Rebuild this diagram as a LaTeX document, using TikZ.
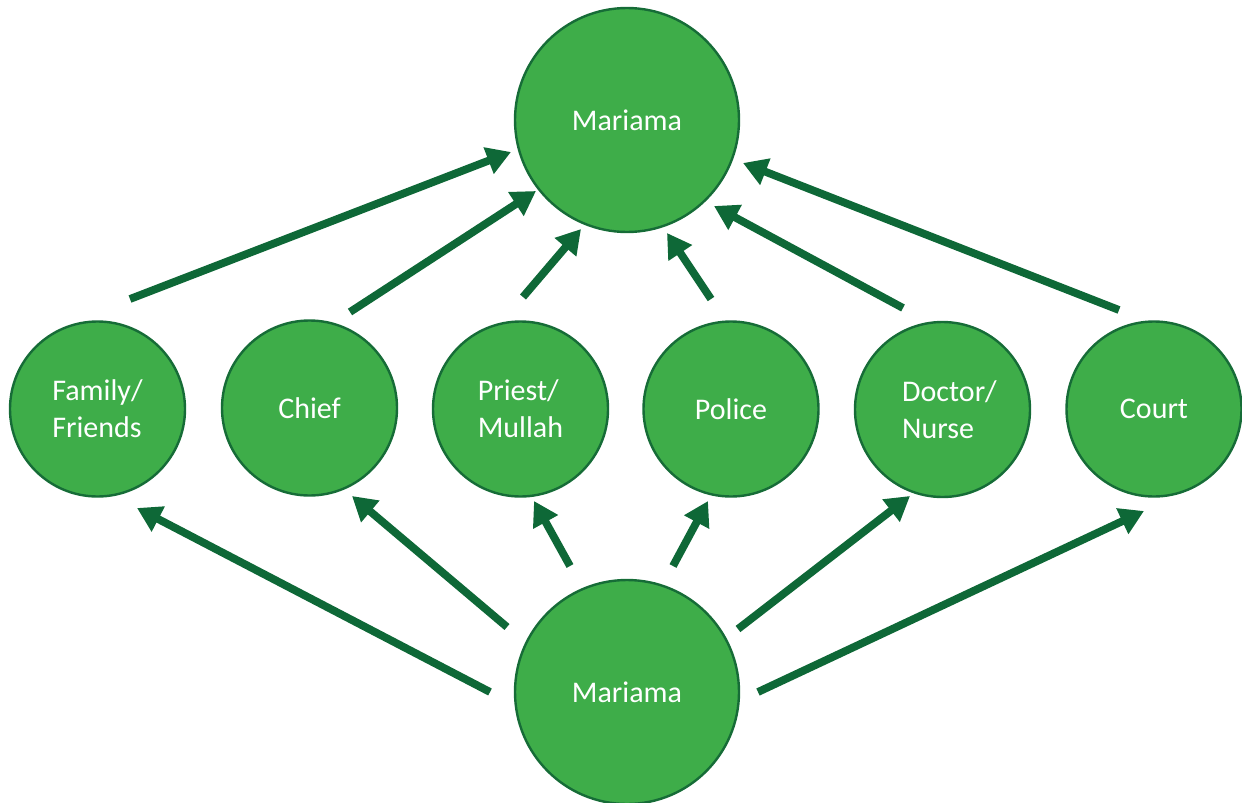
\documentclass[tikz,border=0pt]{standalone}
\usepackage{fontspec}
\setmainfont{Carlito}
\usetikzlibrary{arrows.meta}
\definecolor{cfill}{RGB}{62,173,73}
\definecolor{cline}{RGB}{22,108,55}
\definecolor{carrow}{RGB}{14,104,55}
\begin{document}
\begin{tikzpicture}[x=0.5pt,y=-0.5pt,
  bubble/.style={circle,draw=cline,line width=1.2pt,fill=cfill,text=white,inner sep=0pt,align=left,font=\fontsize{15}{18.5}\selectfont},
  big/.style={bubble,minimum size=112pt},
  small/.style={bubble,minimum size=87.5pt},
  link/.style={draw=carrow,line width=3.9pt,-{Triangle[length=12pt,width=13.5pt]}}]
\useasboundingbox (0,0) rectangle (1242,803);
\node[big] (top) at (627,120) {Mariama};
\node[big] (bot) at (627,692) {Mariama};
\node[small] (fam) at (97.5,409) {Family/\\Friends};
\node[small] (chief) at (309.5,408) {Chief};
\node[small] (priest) at (520.5,409) {Priest/\\Mullah};
\node[small] (police) at (731,409) {Police};
\node[small] (doctor) at (942.5,409.5) {\hspace*{7pt}Doctor/\\\hspace*{7pt}Nurse};
\node[small] (court) at (1154,409) {Court};
% upper arrow ends
\coordinate (fA) at (130,299);  \coordinate (fB) at (511,152);
\coordinate (cA) at (350,312);  \coordinate (cB) at (536,191);
\coordinate (pA) at (523,297);  \coordinate (pB) at (581,229);
\coordinate (oA) at (711,299);  \coordinate (oB) at (667,233);
\coordinate (dA) at (903,308);  \coordinate (dB) at (714,206);
\coordinate (kA) at (1119,310); \coordinate (kB) at (743,163);
% lower arrow ends
\coordinate (fC) at (490,692);  \coordinate (fD) at (137,508);
\coordinate (cC) at (507,627);  \coordinate (cD) at (352,496);
\coordinate (pC) at (570,566);  \coordinate (pD) at (534,501);
\coordinate (oC) at (673,566);  \coordinate (oD) at (708,501);
\coordinate (dC) at (738,629);  \coordinate (dD) at (910,496);
\coordinate (kC) at (758,692);  \coordinate (kD) at (1144,511);
\foreach \a in {f,c,p,o,d,k}{
  \draw[link] (\a A) -- (\a B);
  \draw[link] (\a C) -- (\a D);
}
\end{tikzpicture}
\end{document}
